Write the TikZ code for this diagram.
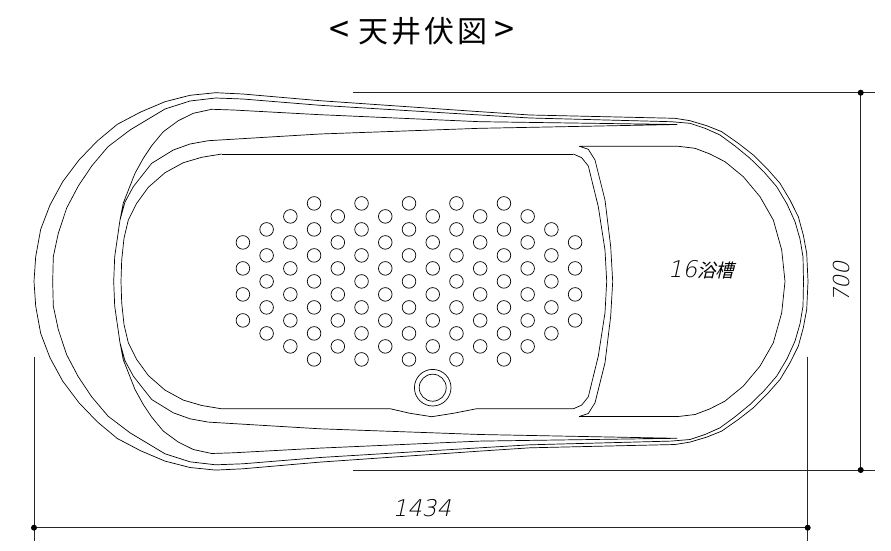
\documentclass[tikz,border=0pt]{standalone}
\usepackage{fontspec}
\usetikzlibrary{positioning}
\newfontfamily\cjkfont[LetterSpace=10]{Noto Sans CJK JP}
\newfontfamily\cjkslant[FakeSlant=0.25]{Noto Sans CJK JP}
\newfontfamily\dimfont[FakeSlant=0.22]{DejaVu Sans ExtraLight}
\tikzset{
  outline/.style={line width=0.7pt,line join=round},
  dimline/.style={line width=0.75pt,black!85},
  dimdot/.style={fill=black},
  hole/.style={line width=0.7pt},
  mirror/.style={shift={(0,562.8)},yscale=-1},
}
% half of the tub, upper side
\newcommand{\halftub}{
  % rim
  \draw[outline] (34,281.4) -- (35.7,256.7) -- (40.7,229.3) -- (50,205) -- (62.7,181.7) -- (79,160) -- (97.3,141) -- (117.3,124.3) -- (140.7,112) -- (165,101.7) -- (190,95.3) -- (215.7,92.7) -- (242.7,94) -- (320,100.7) -- (480,111.7) -- (530,115) -- (675,118.3) -- (690,120.7) -- (706.7,125.7) -- (721.7,131.7) -- (738.3,143.3) -- (753.3,155) -- (768.3,170) -- (780,183.3) -- (790,200) -- (798.3,216.7) -- (803.3,235) -- (806.7,253.3) -- (808,281.4);
  \draw[outline] (52.7,281.4) -- (53.3,256.7) -- (58.3,233.3) -- (66.7,208) -- (78.3,186) -- (91.7,166) -- (108,146.7) -- (130,130) -- (165,109) -- (190,101) -- (215.7,98) -- (242.7,99) -- (320,105.3) -- (480,115) -- (530,118) -- (671,121.7) -- (690,123.3) -- (705,128.3) -- (720,135) -- (735,146) -- (750,158.3) -- (764,172) -- (776.7,186.7) -- (787,204) -- (795,221.7) -- (800,239) -- (803,256.7) -- (803.5,281.4);
  % step around the bath
  \draw[outline] (113.7,281.4) -- (114.7,256.7) -- (120,220) -- (123.3,203) -- (135,173.3) -- (143.3,158.3) -- (151.7,145.7) -- (163.3,131.7) -- (178.3,120.7) -- (193.3,113.3) -- (211.7,109.3) -- (233.3,110) -- (320,114.7) -- (480,121.7) -- (677,124.5) -- (480,128.3) -- (320,134) -- (208.3,140.7) -- (190,144) -- (173.3,150) -- (151.7,163.3) -- (133.3,186.7) -- (125,202) -- (120,220);
  % bath corners
  \draw[outline] (121,281.4) -- (121.7,260) -- (124,238.3) -- (128.3,220) -- (136.7,203.3) -- (148.3,187.3) -- (165,172.7) -- (183.3,162.7) -- (201.7,157.3) -- (221.7,154);
  \draw[outline] (573.3,154) -- (581.7,157.7) -- (588.3,166) -- (598.3,206.7) -- (605,250) -- (606.7,281.4);
  % seat
  \draw[outline] (612.7,281.4) -- (610.7,246.7) -- (605,200) -- (595,160) -- (588.3,149.3) -- (579.3,146.3) -- (678.3,146.3) -- (695,148.3) -- (710,154) -- (725,161.7) -- (743.3,176.7) -- (760,196.7) -- (773.3,220) -- (781.7,250) -- (785,281.4);
}
\begin{document}
\begin{tikzpicture}[x=1pt,y=-1pt]
  \useasboundingbox (0,0) rectangle (891,551);
  % title
  \node (title) at (422,31) {\fontsize{30}{30}\cjkfont {\fontsize{36}{30}\selectfont <}\hspace{9pt}天井伏図\hspace{7pt}{\fontsize{36}{30}\selectfont >}};
  % tub, both halves
  \halftub
  \begin{scope}[mirror]
    \halftub
  \end{scope}
  % bath edges, straight on top, with the bump at the drain below
  \draw[outline] (221.7,154) -- (573.3,154);
  \draw[outline] (221.7,408.7) -- (390,408.7) -- (410,413.3) -- (431.7,416.7) -- (453.3,413.3) -- (476.7,408.7) -- (573.3,408.7);
  % holes
  \foreach \i/\n in {-7/4,-6/5,-5/6,-4/7,-3/6,-2/7,-1/6,0/7,1/6,2/7,3/6,4/7,5/6,6/5,7/4} {
      \foreach \j in {1,...,\n} {
          \draw[hole] ({409+\i*23.73},{281.4+(\j-(\n+1)/2)*26}) circle (6.8pt);
        }
    }
  % drain
  \draw[hole] (432.7,387.7) circle (18.3pt);
  \draw[hole] (432.7,387.7) circle (13.5pt);
  % label
  \node (tubname) at (701,270) {\fontsize{23}{23}\dimfont 16\fontsize{18.5}{18.5}\cjkslant 浴槽};
  % width
  \coordinate (widthL) at (34,527.7);
  \coordinate (widthR) at (807.7,527.7);
  \coordinate (extLtop) at (34,356.7);
  \coordinate (extLbot) at (34,541);
  \coordinate (extRtop) at (807.7,356.7);
  \coordinate (extRbot) at (807.7,541);
  \draw[dimline] (widthL) -- (widthR);
  \draw[dimline] (extLtop) -- (extLbot);
  \draw[dimline] (extRtop) -- (extRbot);
  \fill[dimdot] (widthL) circle (3pt);
  \fill[dimdot] (widthR) circle (3pt);
  \node (widthtext) at (422,508.5) {\fontsize{23}{23}\dimfont 1434};
  % height
  \coordinate (heightT) at (860.7,92.7);
  \coordinate (heightB) at (860.7,470);
  \coordinate (extTleft) at (353,92.7);
  \coordinate (extTright) at (875,92.7);
  \coordinate (extBleft) at (353,470);
  \coordinate (extBright) at (875,470);
  \draw[dimline] (heightT) -- (heightB);
  \draw[dimline] (extTleft) -- (extTright);
  \draw[dimline] (extBleft) -- (extBright);
  \fill[dimdot] (heightT) circle (3pt);
  \fill[dimdot] (heightB) circle (3pt);
  \node[rotate=90] (heighttext) at (841,282) {\fontsize{22}{22}\dimfont 700};
\end{tikzpicture}
\end{document}
